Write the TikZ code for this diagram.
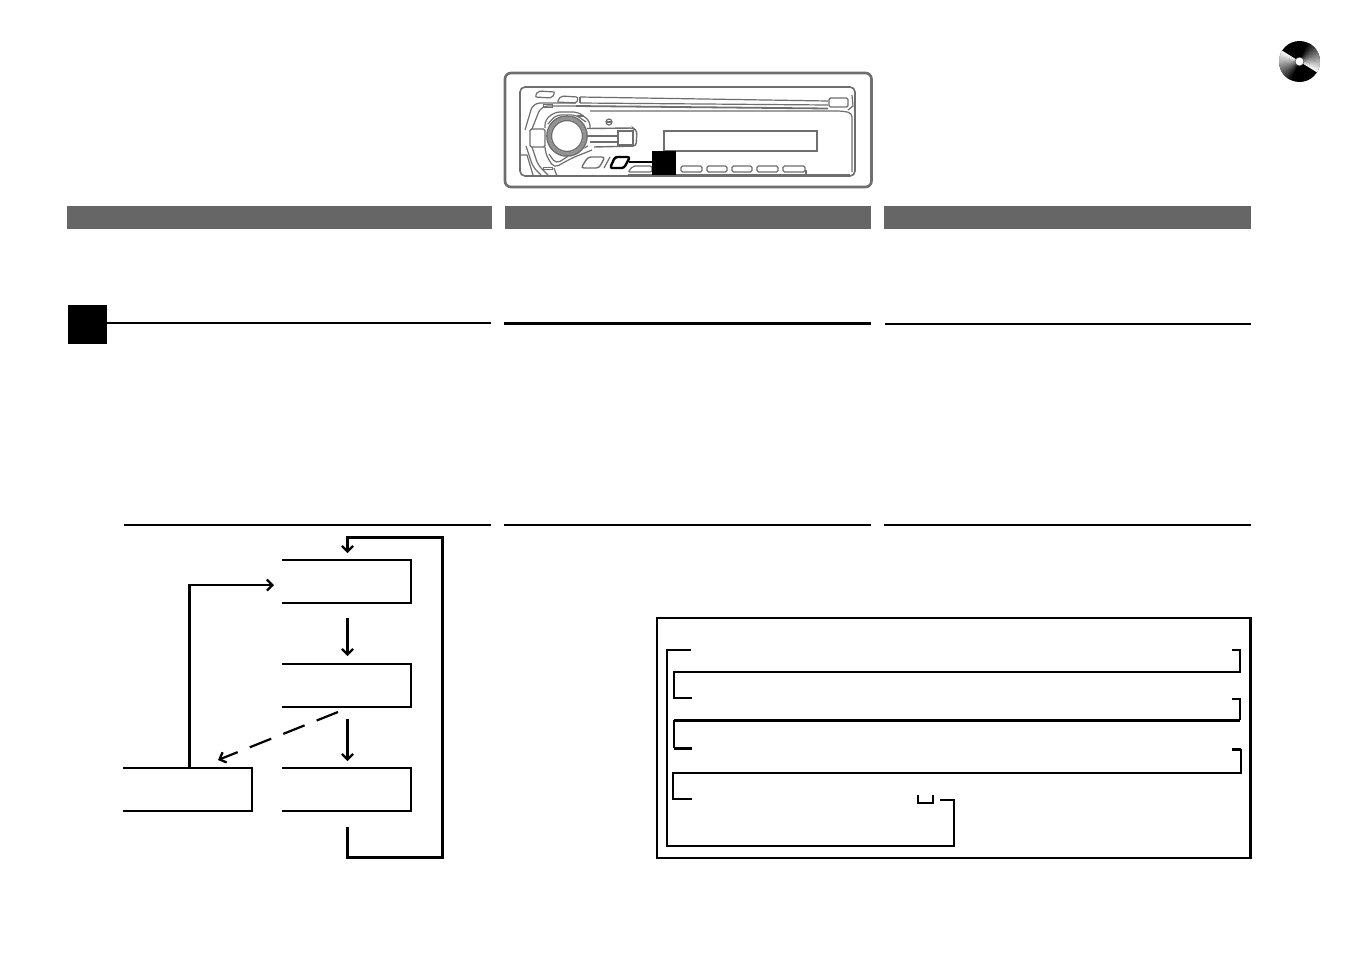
\documentclass[tikz,border=0pt]{standalone}
\usetikzlibrary{arrows.meta}
\definecolor{barg}{HTML}{666666}
\definecolor{deviceg}{HTML}{6E6E6E}
\tikzset{
  x=1pt,y=-1pt,
  every path/.style={line join=miter,line cap=butt},
  bar/.style={fill=barg,draw=none},
  rulethin/.style={draw=black,line width=1.6pt},
  rulemid/.style={draw=black,line width=2pt},
  rulethick/.style={draw=black,line width=3pt},
  boxline/.style={draw=black,line width=2.1pt},
  flow/.style={draw=black,line width=2.9pt,-{Straight Barb[length=5.5pt,width=11pt,line width=2.3pt]}},
  flowthick/.style={flow,line width=3pt},
  dev/.style={draw=deviceg,line width=1.2pt},
  blacksq/.style={fill=black,draw=none,inner sep=0pt,outer sep=0pt,minimum size=#1},
  brk/.style={draw=black,line width=2pt},
  brkthick/.style={draw=black,line width=3pt},
}
\begin{document}
\begin{tikzpicture}
\useasboundingbox (0,0) rectangle (1352,954);
\fill[white] (0,0) rectangle (1352,954);

% disc
\fill[black] (1299.5,61.5) circle (20.5);
\foreach \off in {-32,148}{
  \foreach \i in {18,17,...,0}{
    \pgfmathsetmacro{\sh}{max(0,96-5*\i)}
    \pgfmathsetmacro{\aa}{\off+5*\i}
    \pgfmathsetmacro{\ab}{\off+5*\i+6.5}
    \pgfmathsetmacro{\xa}{1299.5+20.5*cos(\aa)}
    \pgfmathsetmacro{\ya}{61.5-20.5*sin(\aa)}
    \pgfmathsetmacro{\xb}{1299.5+20.5*cos(\ab)}
    \pgfmathsetmacro{\yb}{61.5-20.5*sin(\ab)}
    \fill[white!\sh!black] (1299.5,61.5) -- (\xa,\ya) -- (\xb,\yb) -- cycle;
  }
}
\fill[white] (1299.5,61.5) circle (4.2);
\draw[black!70,line width=.5pt] (1299.5,61.5) circle (4.4);

% device outline
\draw[deviceg,line width=2.6pt,rounded corners=6pt] (505,73) rectangle (871.5,187);
\draw[dev,line width=1.6pt,rounded corners=5pt] (520,87) rectangle (855,176);
% top buttons
\draw[dev,rounded corners=2pt] (538,91) -- (555,92) -- (552,98) -- (535,97) -- cycle;
\draw[dev,rounded corners=2pt] (561,96) -- (578,97) -- (577,103) -- (557,102) -- cycle;
% slot
\draw[dev] (580,97) -- (828,101);
\draw[dev] (580,103) -- (828,105);
\draw[dev,line width=1.8pt] (576,106) -- (828,108.5);
\draw[dev] (580,97) -- (580,103);
\draw[dev,rounded corners=1.5pt,line width=1.4pt] (829,98) rectangle (848,107);
\draw[dev] (852,95) -- (853,106) -- (848,110);
% right panel
\draw[dev,rounded corners=4pt] (590,111) -- (842,111) -- (852,113) -- (852,172);
% left face curves
\draw[dev,rounded corners=7pt] (576,103) -- (533,103) -- (525,130);
\draw[dev,rounded corners=7pt] (576,106) -- (541,106) -- (532,129);
\draw[dev,rounded corners=5pt] (526,146) -- (533,167) -- (541,175);
\draw[dev,rounded corners=5pt] (532,147) -- (538,165) -- (548,175);
\draw[dev,line width=.9pt] (543,104) rectangle (552,107);
\draw[dev,line width=.9pt] (543,167) rectangle (552,169.5);
\draw[dev] (520,155) -- (527,155) -- (533,175);
% arch around knob and arm sweep
\draw[dev,rounded corners=5pt] (545,128) -- (545,120) -- (555,112) -- (578,112) -- (590,121) -- (590,128);
\draw[dev,rounded corners=5pt] (548,124) -- (556,115) -- (576,115) -- (586,122);
\draw[dev,line width=1.4pt] (577,116) -- (584,116);
\draw[dev,rounded corners=5pt] (545,147) -- (546,155) -- (554,168) -- (572,158) -- (592,150);
\draw[dev,rounded corners=5pt] (549,154) -- (556,164) -- (570,155) -- (588,146);
\draw[dev] (554,168) -- (557,176);
% knob
\draw[dev,rounded corners=1.5pt,line width=1.4pt] (530,129) rectangle (545,147);
\fill[white] (567,136) circle (21);
\draw[deviceg,line width=1.7pt] (567,136) circle (20);
\draw[deviceg!75!white,line width=3pt] (567,136) circle (17.8);
\draw[deviceg,line width=1.4pt] (567,136) circle (15.5);
% right arm
\draw[dev,rounded corners=3pt,line width=1.4pt] (587,128.5) -- (633,128) -- (637,131) -- (636,146) -- (594,147);
\draw[dev,line width=1.4pt] (618,131) rectangle (633,145);
\draw[dev] (588,136) -- (618,136);
\draw[dev] (590,142) -- (618,142);
\draw[dev] (609,122) circle (3);
\draw[dev] (606,122) -- (612,122);
% display
\draw[dev,line width=1.3pt] (664,131) rectangle (817,151);
% lower buttons
\draw[dev,rounded corners=3pt,line width=1.4pt] (588,157) -- (605,157) -- (599,168) -- (581,168) -- cycle;
\draw[dev] (604,168) -- (610,157);
\draw[dev,rounded corners=2pt] (633,166) -- (652,166) -- (652,172) -- (628,172) -- cycle;
\foreach \xa/\xb in {681/702,707/727,732/752,757/778,783/805}{
  \draw[dev,rounded corners=1.5pt,line width=1.3pt] (\xa,166) rectangle (\xb,172);
}
\draw[dev,line width=1.4pt] (628,174.5) -- (806,174.5) -- (806,170);
\draw[dev,line width=1.4pt] (806,174.5) -- (850,174.5);
% callout
\node[blacksq=24pt] (devbadge) at (664,163) {};
\draw[black,line width=2.4pt,rounded corners=2.5pt,fill=white] (615,157) -- (630,157) -- (624,168) -- (610,168) -- cycle;
\coordinate (btn) at (629,162);
\draw[black,line width=2.6pt] (btn) -- (devbadge.west |- btn);

% bars
\fill[bar] (67,206) rectangle (492,229);
\fill[bar] (505,206) rectangle (871,229);
\fill[bar] (884,206) rectangle (1251,229);

% section rules
\node[blacksq=39pt] (sec) at (87.5,324.5) {};
\coordinate (secEnd) at (491,323);
\draw[rulethin] (sec.east |- secEnd) -- (secEnd);
\draw[rulethick] (504,323.5) -- (871,323.5);
\draw[rulemid] (885,324) -- (1251,324);
\draw[rulemid] (124,525) -- (491,525);
\draw[rulemid] (504,525) -- (871,525);
\draw[rulemid] (884,525) -- (1251,525);

% flow boxes (open on the left)
\draw[boxline] (282,560) -- (411,560) -- (411,603) -- (282,603);
\draw[boxline] (282,664) -- (411,664) -- (411,707) -- (282,707);
\draw[boxline] (282,768) -- (411,768) -- (411,811) -- (282,811);
\draw[boxline] (123,768) -- (252,768) -- (252,811) -- (123,811);
\coordinate (a1s) at (347.5,618); \coordinate (a1e) at (347.5,656);
\coordinate (a2s) at (347.5,719); \coordinate (a2e) at (347.5,761);
\coordinate (loopS) at (347.5,827); \coordinate (loopE) at (347.5,553);
\coordinate (backS) at (189.5,768); \coordinate (backE) at (274,585);
\coordinate (dashS) at (338,712); \coordinate (dashE) at (218,760);
\draw[flowthick] (a1s) -- (a1e);
\draw[flowthick] (a2s) -- (a2e);
\draw[flowthick] (loopS) -- (347.5,857) -- (442,857) -- (442,537) -- (347.5,537) -- (loopE);
\draw[flow] (backS) -- (189.5,585) -- (backE);
\draw[flow,line width=2.2pt,dash pattern=on 23pt off 13pt] (dashS) -- (dashE);

% info box
\draw[black,line width=2.2pt] (1250.5,618) -- (657,618) -- (657,858) -- (1250.5,858);
\draw[black,line width=2.8pt] (1250.5,617) -- (1250.5,859);
\draw[brk] (691,650) -- (667,650) -- (667,846) -- (954,846) -- (954,800) -- (940,800);
\draw[brk] (1232,650) -- (1240,650) -- (1240,672) -- (674,672) -- (674,698) -- (692,698);
\draw[brk] (1232,699) -- (1240,699) -- (1240,720);
\draw[brkthick] (1240,720) -- (674,720);
\draw[brk] (674,720) -- (674,748);
\draw[brkthick] (674,748) -- (692,748);
\draw[brkthick] (1232,749) -- (1241,749);
\draw[brk] (1241,749) -- (1241,773) -- (673,773) -- (673,799) -- (692,799);
\draw[brk] (918,795) -- (918,803) -- (932.5,803) -- (932.5,795);
\end{tikzpicture}
\end{document}
